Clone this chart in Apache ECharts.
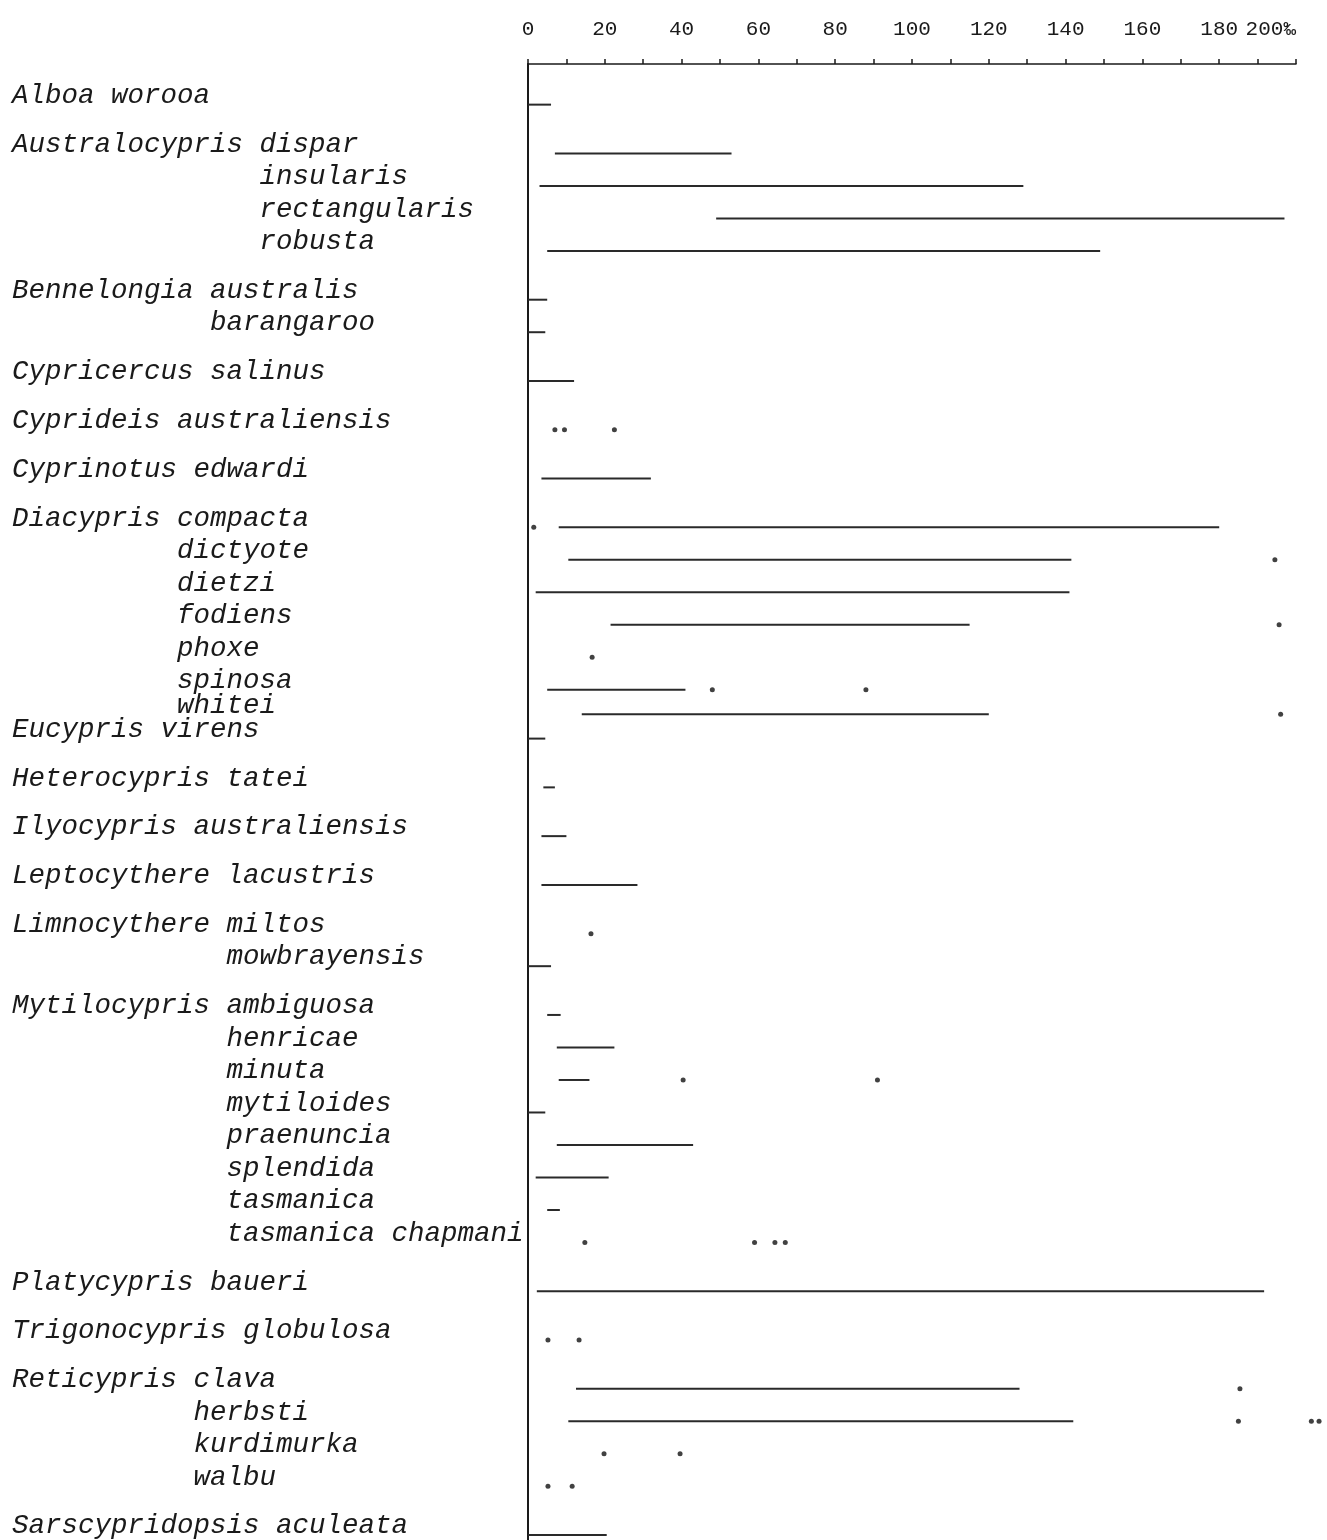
<!DOCTYPE html>
<html>
<head>
<meta charset="utf-8">
<script src="https://cdn.jsdelivr.net/npm/echarts@6/dist/echarts.min.js"></script>
<style>
  html, body { margin: 0; padding: 0; background: #fff; }
  #main { width: 1327px; height: 1540px; }
</style>
</head>
<body>
<div id="main"></div>
<script>
// genera, in the order they are typed down the page
const genera = ['Alboa', 'Australocypris', 'Bennelongia', 'Cypricercus', 'Cyprideis',
    'Cyprinotus', 'Diacypris', 'Eucypris', 'Heterocypris', 'Ilyocypris', 'Leptocythere',
    'Limnocythere', 'Mytilocypris', 'Platycypris', 'Trigonocypris', 'Reticypris', 'Sarscypridopsis'];

const species = [
    ['worooa'],
    ['dispar', 'insularis', 'rectangularis', 'robusta'],
    ['australis', 'barangaroo'],
    ['salinus'],
    ['australiensis'],
    ['edwardi'],
    ['compacta', 'dictyote', 'dietzi', 'fodiens', 'phoxe', 'spinosa', 'whitei'],
    ['virens'],
    ['tatei'],
    ['australiensis'],
    ['lacustris'],
    ['miltos', 'mowbrayensis'],
    ['ambiguosa', 'henricae', 'minuta', 'mytiloides', 'praenuncia', 'splendida', 'tasmanica', 'tasmanica chapmani'],
    ['baueri'],
    ['globulosa'],
    ['clava', 'herbsti', 'kurdimurka', 'walbu'],
    ['aculeata']
];

// salinity range (per mille), one entry per species in the order above; null = no range
const rangeMin = [0, 7, 3, 49, 5, 0, 0, 0, null, 3.5, 8, 10.5, 2, 21.5, null, 5, 14, 0, 4, 3.5, 3.5,
    null, 0, 5, 7.5, 8, 0, 7.5, 2, 5, null, 2.3, null, 12.5, 10.5, null, null, 0];
const rangeMax = [6, 53, 129, 197, 149, 5, 4.5, 12, null, 32, 180, 141.5, 141, 115, null, 41, 120, 4.5, 7, 10, 28.5,
    null, 6, 8.5, 22.5, 16, 4.5, 43, 21, 8.3, null, 191.7, null, 128, 142, null, null, 20.5];

// isolated records (per mille)
const records = [[], [], [], [], [], [], [], [], [7, 9.5, 22.5], [], [1.5], [194.5], [], [195.6], [16.7], [48, 88], [196],
    [], [], [], [], [16.4], [], [], [], [40.4, 91], [], [], [], [], [14.8, 59, 64.3, 67], [], [5.2, 13.3],
    [185.4], [185, 204, 206], [19.8, 39.6], [5.2, 11.5], []];

const xTicks = [0, 20, 40, 60, 80, 100, 120, 140, 160, 180, 200];

// rows typed into a gap instead of on a line of their own
const squeezed = ['whitei'];

// build rows: a line step is 2 units, a genus gap is 3
let rows = [];
let pos = 0, lastFull = 0;
genera.forEach(function (g, gi) {
    species[gi].forEach(function (s, si) {
        if (gi > 0 || si > 0) {
            if (si === 0) pos = lastFull + 3;
            else if (squeezed.indexOf(s) >= 0) pos = lastFull + 1.5;
            else pos = lastFull + 2;
        }
        let label = si === 0 ? g + ' ' + s : ' '.repeat(g.length + 1) + s;
        rows.push({ label: label, pos: pos });
        if (squeezed.indexOf(s) < 0) lastFull = pos;
    });
});

let rangeData = [];
let dotData = [];
rows.forEach(function (r, i) {
    if (rangeMin[i] !== null) rangeData.push([rangeMin[i], rangeMax[i], r.pos]);
    records[i].forEach(function (v) { dotData.push([v, r.pos]); });
});

var chartDom = document.getElementById('main');
var myChart = echarts.init(chartDom);
var option;

option = {
    animation: false,
    backgroundColor: '#fff',
    grid: {
        left: 528,
        right: 31,
        top: 64,
        bottom: 0,
        containLabel: false,
        outerBoundsMode: 'none'
    },
    xAxis: {
        type: 'value',
        position: 'top',
        min: 0,
        max: 200,
        interval: 10,
        axisLine: { show: true, onZero: false, lineStyle: { color: '#1a1a1a', width: 1.5 } },
        axisTick: { show: true, length: 5, lineStyle: { color: '#1a1a1a', width: 1.5 } },
        splitLine: { show: false },
        axisLabel: {
            margin: 24,
            hideOverlap: false,
            alignMaxLabel: 'right',
            color: '#1a1a1a',
            fontFamily: 'Liberation Mono',
            fontSize: 21,
            formatter: function (v) {
                if (xTicks.indexOf(v) < 0) return '';
                return v === 200 ? '200‰' : String(v);
            }
        }
    },
    yAxis: {
        type: 'value',
        inverse: true,
        min: -2.5,
        max: 88.3,
        interval: 0.5,
        axisLine: { show: true, onZero: false, lineStyle: { color: '#1a1a1a', width: 2 } },
        axisTick: { show: false },
        splitLine: { show: false },
        axisLabel: {
            show: true,
            hideOverlap: false,
            showMinLabel: true,
            showMaxLabel: true,
            align: 'left',
            verticalAlign: 'bottom',
            lineHeight: 18,
            margin: 516,
            color: '#1a1a1a',
            fontFamily: 'Liberation Mono',
            fontStyle: 'italic',
            fontSize: 27.5,
            formatter: function (v) {
                for (let r of rows) {
                    if (Math.abs(r.pos - v) < 0.01) return r.label;
                }
                return '';
            }
        }
    },
    series: [
        {
            name: 'range',
            type: 'custom',
            data: rangeData,
            encode: { x: [0, 1], y: 2 },
            renderItem: function (params, api) {
                var a = api.coord([api.value(0), api.value(2)]);
                var b = api.coord([api.value(1), api.value(2)]);
                return {
                    type: 'line',
                    shape: { x1: a[0], y1: a[1], x2: b[0], y2: b[1] },
                    style: { stroke: '#2a2a2a', lineWidth: 2 }
                };
            }
        },
        {
            name: 'records',
            type: 'scatter',
            data: dotData,
            clip: false,
            symbol: 'circle',
            symbolSize: 5,
            itemStyle: { color: '#111' }
        }
    ]
};

option && myChart.setOption(option);
</script>
</body>
</html>
